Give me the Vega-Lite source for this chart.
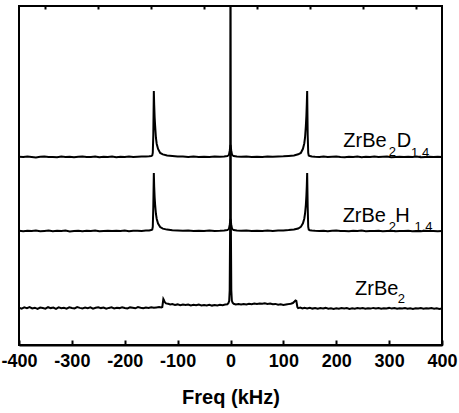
{
  "$schema": "https://vega.github.io/schema/vega-lite/v6.json",
  "autosize": {"type": "none"},
  "width": 423,
  "height": 339,
  "padding": {"left": 19, "top": 6, "right": 17, "bottom": 68},
  "background": "white",
  "config": {
    "view": {"stroke": "black", "strokeWidth": 2},
    "font": "Liberation Sans"
  },
  "datasets": {
    "spectra": [
      {"s":"D","f":-400,"v":188.3},{"s":"D","f":-392,"v":187.9},{"s":"D","f":-384,"v":188.4},{"s":"D","f":-376,"v":188.0},{"s":"D","f":-368,"v":187.6},{"s":"D","f":-360,"v":188.2},{"s":"D","f":-352,"v":188.5},{"s":"D","f":-344,"v":187.9},{"s":"D","f":-336,"v":188.1},{"s":"D","f":-328,"v":187.7},{"s":"D","f":-320,"v":188.4},{"s":"D","f":-312,"v":188.0},{"s":"D","f":-304,"v":188.3},{"s":"D","f":-296,"v":187.8},{"s":"D","f":-288,"v":188.2},{"s":"D","f":-280,"v":188.5},{"s":"D","f":-272,"v":187.9},{"s":"D","f":-264,"v":188.1},{"s":"D","f":-256,"v":188.4},{"s":"D","f":-248,"v":187.7},{"s":"D","f":-240,"v":188.2},{"s":"D","f":-232,"v":188.0},{"s":"D","f":-224,"v":188.4},{"s":"D","f":-216,"v":187.8},{"s":"D","f":-208,"v":188.3},{"s":"D","f":-200,"v":188.1},{"s":"D","f":-192,"v":188.5},{"s":"D","f":-184,"v":188.0},{"s":"D","f":-176,"v":188.3},{"s":"D","f":-168,"v":188.6},{"s":"D","f":-160,"v":188.4},{"s":"D","f":-154,"v":188.7},{"s":"D","f":-150,"v":189.0},{"s":"D","f":-148,"v":189.6},{"s":"D","f":-147,"v":192},{"s":"D","f":-146,"v":210},{"s":"D","f":-145,"v":254},{"s":"D","f":-144.3,"v":240},{"s":"D","f":-143.5,"v":228},{"s":"D","f":-142.5,"v":219},{"s":"D","f":-141,"v":207},{"s":"D","f":-139.5,"v":201},{"s":"D","f":-137,"v":196},{"s":"D","f":-133,"v":192},{"s":"D","f":-128,"v":190.6},{"s":"D","f":-120,"v":189.5},{"s":"D","f":-110,"v":189.0},{"s":"D","f":-100,"v":188.6},{"s":"D","f":-90,"v":188.4},{"s":"D","f":-80,"v":188.1},{"s":"D","f":-70,"v":188.4},{"s":"D","f":-60,"v":188.0},{"s":"D","f":-50,"v":188.3},{"s":"D","f":-40,"v":188.1},{"s":"D","f":-30,"v":188.4},{"s":"D","f":-20,"v":188.3},{"s":"D","f":-12,"v":188.6},{"s":"D","f":-6,"v":189.0},{"s":"D","f":-3,"v":190},{"s":"D","f":-1.5,"v":194},{"s":"D","f":0,"v":200},{"s":"D","f":1.5,"v":194},{"s":"D","f":3,"v":190},{"s":"D","f":6,"v":189.0},{"s":"D","f":12,"v":188.5},{"s":"D","f":20,"v":188.2},{"s":"D","f":30,"v":188.4},{"s":"D","f":40,"v":188.0},{"s":"D","f":50,"v":188.3},{"s":"D","f":60,"v":188.1},{"s":"D","f":70,"v":188.4},{"s":"D","f":80,"v":188.2},{"s":"D","f":90,"v":188.5},{"s":"D","f":100,"v":188.7},{"s":"D","f":110,"v":189.1},{"s":"D","f":120,"v":189.6},{"s":"D","f":128,"v":190.7},{"s":"D","f":133,"v":192.1},{"s":"D","f":137,"v":196.2},{"s":"D","f":139.5,"v":201.5},{"s":"D","f":141,"v":207.5},{"s":"D","f":142.5,"v":219},{"s":"D","f":143.5,"v":229},{"s":"D","f":144.3,"v":241},{"s":"D","f":145,"v":254},{"s":"D","f":146,"v":210},{"s":"D","f":147,"v":192},{"s":"D","f":148,"v":189.5},{"s":"D","f":150,"v":188.9},{"s":"D","f":154,"v":188.6},{"s":"D","f":160,"v":188.3},{"s":"D","f":168,"v":188.0},{"s":"D","f":176,"v":188.4},{"s":"D","f":184,"v":187.9},{"s":"D","f":192,"v":188.2},{"s":"D","f":200,"v":188.5},{"s":"D","f":208,"v":188.0},{"s":"D","f":216,"v":187.7},{"s":"D","f":224,"v":188.3},{"s":"D","f":232,"v":188.1},{"s":"D","f":240,"v":188.4},{"s":"D","f":248,"v":187.8},{"s":"D","f":256,"v":188.2},{"s":"D","f":264,"v":188.0},{"s":"D","f":272,"v":188.5},{"s":"D","f":280,"v":187.9},{"s":"D","f":288,"v":188.2},{"s":"D","f":296,"v":188.4},{"s":"D","f":304,"v":187.8},{"s":"D","f":312,"v":188.1},{"s":"D","f":320,"v":188.3},{"s":"D","f":328,"v":187.9},{"s":"D","f":336,"v":188.2},{"s":"D","f":344,"v":188.0},{"s":"D","f":352,"v":188.4},{"s":"D","f":360,"v":187.8},{"s":"D","f":368,"v":188.1},{"s":"D","f":376,"v":188.3},{"s":"D","f":384,"v":187.9},{"s":"D","f":392,"v":188.2},{"s":"D","f":400,"v":188.0},

      {"s":"H","f":-400,"v":114.2},{"s":"H","f":-392,"v":113.8},{"s":"H","f":-384,"v":114.3},{"s":"H","f":-376,"v":113.9},{"s":"H","f":-368,"v":114.4},{"s":"H","f":-360,"v":113.7},{"s":"H","f":-352,"v":114.1},{"s":"H","f":-344,"v":114.5},{"s":"H","f":-336,"v":113.8},{"s":"H","f":-328,"v":114.2},{"s":"H","f":-320,"v":113.9},{"s":"H","f":-312,"v":114.4},{"s":"H","f":-304,"v":113.6},{"s":"H","f":-296,"v":114.1},{"s":"H","f":-288,"v":114.3},{"s":"H","f":-280,"v":113.8},{"s":"H","f":-272,"v":114.2},{"s":"H","f":-264,"v":114.0},{"s":"H","f":-256,"v":114.4},{"s":"H","f":-248,"v":113.7},{"s":"H","f":-240,"v":114.1},{"s":"H","f":-232,"v":114.3},{"s":"H","f":-224,"v":113.9},{"s":"H","f":-216,"v":114.2},{"s":"H","f":-208,"v":114.0},{"s":"H","f":-200,"v":114.4},{"s":"H","f":-192,"v":113.8},{"s":"H","f":-184,"v":114.2},{"s":"H","f":-176,"v":114.3},{"s":"H","f":-168,"v":114.0},{"s":"H","f":-160,"v":114.4},{"s":"H","f":-154,"v":114.6},{"s":"H","f":-150,"v":114.9},{"s":"H","f":-148,"v":115.5},{"s":"H","f":-147,"v":118},{"s":"H","f":-146,"v":138},{"s":"H","f":-145,"v":172},{"s":"H","f":-144.3,"v":158},{"s":"H","f":-143.5,"v":148},{"s":"H","f":-142.5,"v":140},{"s":"H","f":-141,"v":131},{"s":"H","f":-139.5,"v":126},{"s":"H","f":-137,"v":121.5},{"s":"H","f":-133,"v":118},{"s":"H","f":-128,"v":116.4},{"s":"H","f":-120,"v":115.4},{"s":"H","f":-110,"v":114.8},{"s":"H","f":-100,"v":114.5},{"s":"H","f":-90,"v":114.2},{"s":"H","f":-80,"v":114.4},{"s":"H","f":-70,"v":113.9},{"s":"H","f":-60,"v":114.3},{"s":"H","f":-50,"v":114.0},{"s":"H","f":-40,"v":114.4},{"s":"H","f":-30,"v":114.1},{"s":"H","f":-20,"v":114.3},{"s":"H","f":-12,"v":114.6},{"s":"H","f":-6,"v":115.0},{"s":"H","f":-3,"v":116},{"s":"H","f":-1.5,"v":120},{"s":"H","f":0,"v":126},{"s":"H","f":1.5,"v":120},{"s":"H","f":3,"v":116},{"s":"H","f":6,"v":115.0},{"s":"H","f":12,"v":114.5},{"s":"H","f":20,"v":114.2},{"s":"H","f":30,"v":114.4},{"s":"H","f":40,"v":114.0},{"s":"H","f":50,"v":114.3},{"s":"H","f":60,"v":114.1},{"s":"H","f":70,"v":114.4},{"s":"H","f":80,"v":114.1},{"s":"H","f":90,"v":114.4},{"s":"H","f":100,"v":114.6},{"s":"H","f":110,"v":114.9},{"s":"H","f":120,"v":115.5},{"s":"H","f":128,"v":116.5},{"s":"H","f":133,"v":118.1},{"s":"H","f":137,"v":121.7},{"s":"H","f":139.5,"v":126.3},{"s":"H","f":141,"v":131.5},{"s":"H","f":142.5,"v":140},{"s":"H","f":143.5,"v":149},{"s":"H","f":144.3,"v":159},{"s":"H","f":145,"v":172},{"s":"H","f":146,"v":138},{"s":"H","f":147,"v":118},{"s":"H","f":148,"v":115.4},{"s":"H","f":150,"v":114.8},{"s":"H","f":154,"v":114.5},{"s":"H","f":160,"v":114.2},{"s":"H","f":168,"v":113.9},{"s":"H","f":176,"v":114.3},{"s":"H","f":184,"v":113.8},{"s":"H","f":192,"v":114.2},{"s":"H","f":200,"v":114.4},{"s":"H","f":208,"v":113.9},{"s":"H","f":216,"v":114.1},{"s":"H","f":224,"v":113.7},{"s":"H","f":232,"v":114.2},{"s":"H","f":240,"v":114.0},{"s":"H","f":248,"v":114.4},{"s":"H","f":256,"v":113.8},{"s":"H","f":264,"v":114.1},{"s":"H","f":272,"v":113.9},{"s":"H","f":280,"v":114.3},{"s":"H","f":288,"v":113.7},{"s":"H","f":296,"v":114.0},{"s":"H","f":304,"v":114.2},{"s":"H","f":312,"v":113.8},{"s":"H","f":320,"v":114.1},{"s":"H","f":328,"v":113.9},{"s":"H","f":336,"v":114.3},{"s":"H","f":344,"v":113.8},{"s":"H","f":352,"v":114.0},{"s":"H","f":360,"v":113.7},{"s":"H","f":368,"v":114.2},{"s":"H","f":376,"v":113.9},{"s":"H","f":384,"v":114.1},{"s":"H","f":392,"v":113.8},{"s":"H","f":400,"v":114.0},

      {"s":"Z","f":-400,"v":37.2},{"s":"Z","f":-395,"v":36.4},{"s":"Z","f":-390,"v":37.6},{"s":"Z","f":-385,"v":36.8},{"s":"Z","f":-380,"v":37.9},{"s":"Z","f":-375,"v":36.5},{"s":"Z","f":-370,"v":37.3},{"s":"Z","f":-365,"v":36.2},{"s":"Z","f":-360,"v":37.5},{"s":"Z","f":-355,"v":37.0},{"s":"Z","f":-350,"v":36.3},{"s":"Z","f":-345,"v":37.8},{"s":"Z","f":-340,"v":36.9},{"s":"Z","f":-335,"v":37.4},{"s":"Z","f":-330,"v":36.1},{"s":"Z","f":-325,"v":37.6},{"s":"Z","f":-320,"v":36.7},{"s":"Z","f":-315,"v":37.2},{"s":"Z","f":-310,"v":36.4},{"s":"Z","f":-305,"v":37.7},{"s":"Z","f":-300,"v":37.0},{"s":"Z","f":-295,"v":36.5},{"s":"Z","f":-290,"v":37.9},{"s":"Z","f":-285,"v":37.1},{"s":"Z","f":-280,"v":36.6},{"s":"Z","f":-275,"v":37.4},{"s":"Z","f":-270,"v":36.8},{"s":"Z","f":-265,"v":37.6},{"s":"Z","f":-260,"v":36.3},{"s":"Z","f":-255,"v":37.2},{"s":"Z","f":-250,"v":37.8},{"s":"Z","f":-245,"v":36.9},{"s":"Z","f":-240,"v":37.5},{"s":"Z","f":-235,"v":36.4},{"s":"Z","f":-230,"v":37.1},{"s":"Z","f":-225,"v":37.7},{"s":"Z","f":-220,"v":36.6},{"s":"Z","f":-215,"v":37.3},{"s":"Z","f":-210,"v":36.9},{"s":"Z","f":-205,"v":37.8},{"s":"Z","f":-200,"v":37.0},{"s":"Z","f":-195,"v":36.5},{"s":"Z","f":-190,"v":37.6},{"s":"Z","f":-185,"v":37.2},{"s":"Z","f":-180,"v":36.7},{"s":"Z","f":-175,"v":37.9},{"s":"Z","f":-170,"v":37.3},{"s":"Z","f":-165,"v":36.8},{"s":"Z","f":-160,"v":37.5},{"s":"Z","f":-155,"v":37.1},{"s":"Z","f":-150,"v":37.8},{"s":"Z","f":-145,"v":37.2},{"s":"Z","f":-140,"v":37.6},{"s":"Z","f":-135,"v":37.9},{"s":"Z","f":-131,"v":37.5},{"s":"Z","f":-129,"v":38.0},{"s":"Z","f":-128,"v":42},{"s":"Z","f":-127,"v":46},{"s":"Z","f":-126,"v":45},{"s":"Z","f":-124.5,"v":43},{"s":"Z","f":-122,"v":41.6},{"s":"Z","f":-118,"v":41.2},{"s":"Z","f":-114,"v":40.5},{"s":"Z","f":-110,"v":40.9},{"s":"Z","f":-105,"v":40.1},{"s":"Z","f":-100,"v":40.6},{"s":"Z","f":-95,"v":39.8},{"s":"Z","f":-90,"v":40.4},{"s":"Z","f":-85,"v":39.9},{"s":"Z","f":-80,"v":40.5},{"s":"Z","f":-75,"v":39.6},{"s":"Z","f":-70,"v":40.2},{"s":"Z","f":-65,"v":39.7},{"s":"Z","f":-60,"v":40.4},{"s":"Z","f":-55,"v":39.5},{"s":"Z","f":-50,"v":40.1},{"s":"Z","f":-45,"v":39.6},{"s":"Z","f":-40,"v":40.3},{"s":"Z","f":-35,"v":39.4},{"s":"Z","f":-30,"v":40.0},{"s":"Z","f":-25,"v":39.6},{"s":"Z","f":-20,"v":40.2},{"s":"Z","f":-15,"v":39.8},{"s":"Z","f":-10,"v":40.4},{"s":"Z","f":-6,"v":40.8},{"s":"Z","f":-4,"v":41.8},{"s":"Z","f":-2.5,"v":44},{"s":"Z","f":-1.5,"v":55},{"s":"Z","f":-0.7,"v":120},{"s":"Z","f":0,"v":430},{"s":"Z","f":0.7,"v":120},{"s":"Z","f":1.5,"v":55},{"s":"Z","f":2.5,"v":44.5},{"s":"Z","f":4,"v":42.2},{"s":"Z","f":6,"v":41.2},{"s":"Z","f":10,"v":40.6},{"s":"Z","f":15,"v":40.9},{"s":"Z","f":20,"v":40.4},{"s":"Z","f":25,"v":41.0},{"s":"Z","f":30,"v":40.6},{"s":"Z","f":35,"v":41.3},{"s":"Z","f":40,"v":40.8},{"s":"Z","f":45,"v":41.5},{"s":"Z","f":50,"v":41.0},{"s":"Z","f":55,"v":41.6},{"s":"Z","f":60,"v":41.2},{"s":"Z","f":65,"v":41.7},{"s":"Z","f":70,"v":41.1},{"s":"Z","f":75,"v":41.4},{"s":"Z","f":80,"v":40.7},{"s":"Z","f":85,"v":41.1},{"s":"Z","f":90,"v":40.3},{"s":"Z","f":95,"v":40.7},{"s":"Z","f":100,"v":40.1},{"s":"Z","f":105,"v":40.5},{"s":"Z","f":110,"v":40.9},{"s":"Z","f":114,"v":41.3},{"s":"Z","f":118,"v":42.0},{"s":"Z","f":121,"v":43.5},{"s":"Z","f":123,"v":44.6},{"s":"Z","f":124.5,"v":44.2},{"s":"Z","f":125.5,"v":41},{"s":"Z","f":126.5,"v":38},{"s":"Z","f":128,"v":36.8},{"s":"Z","f":132,"v":37.4},{"s":"Z","f":136,"v":36.5},{"s":"Z","f":140,"v":37.2},{"s":"Z","f":145,"v":36.6},{"s":"Z","f":150,"v":37.3},{"s":"Z","f":155,"v":36.4},{"s":"Z","f":160,"v":37.0},{"s":"Z","f":165,"v":36.2},{"s":"Z","f":170,"v":36.9},{"s":"Z","f":175,"v":36.5},{"s":"Z","f":180,"v":37.1},{"s":"Z","f":185,"v":36.3},{"s":"Z","f":190,"v":36.8},{"s":"Z","f":195,"v":36.0},{"s":"Z","f":200,"v":36.7},{"s":"Z","f":205,"v":36.2},{"s":"Z","f":210,"v":37.0},{"s":"Z","f":215,"v":36.4},{"s":"Z","f":220,"v":36.9},{"s":"Z","f":225,"v":36.1},{"s":"Z","f":230,"v":36.7},{"s":"Z","f":235,"v":36.3},{"s":"Z","f":240,"v":37.0},{"s":"Z","f":245,"v":36.5},{"s":"Z","f":250,"v":36.9},{"s":"Z","f":255,"v":36.2},{"s":"Z","f":260,"v":36.8},{"s":"Z","f":265,"v":36.4},{"s":"Z","f":270,"v":37.1},{"s":"Z","f":275,"v":36.6},{"s":"Z","f":280,"v":37.0},{"s":"Z","f":285,"v":36.3},{"s":"Z","f":290,"v":36.8},{"s":"Z","f":295,"v":36.5},{"s":"Z","f":300,"v":37.1},{"s":"Z","f":305,"v":36.4},{"s":"Z","f":310,"v":36.9},{"s":"Z","f":315,"v":36.2},{"s":"Z","f":320,"v":36.8},{"s":"Z","f":325,"v":36.5},{"s":"Z","f":330,"v":37.0},{"s":"Z","f":335,"v":36.3},{"s":"Z","f":340,"v":36.7},{"s":"Z","f":345,"v":36.1},{"s":"Z","f":350,"v":36.8},{"s":"Z","f":355,"v":36.4},{"s":"Z","f":360,"v":37.0},{"s":"Z","f":365,"v":36.2},{"s":"Z","f":370,"v":36.7},{"s":"Z","f":375,"v":36.4},{"s":"Z","f":380,"v":36.9},{"s":"Z","f":385,"v":36.3},{"s":"Z","f":390,"v":36.8},{"s":"Z","f":395,"v":36.1},{"s":"Z","f":400,"v":36.6}
    ],
    "labels": [
      {"f":213.3,"v":197.7,"t":"ZrBe","k":"main"},
      {"f":299.4,"v":188.8,"t":"2","k":"sub"},
      {"f":314.5,"v":197.7,"t":"D","k":"main"},
      {"f":341.5,"v":188.5,"t":"1.4","k":"sub"},
      {"f":212.1,"v":122.7,"t":"ZrBe","k":"main"},
      {"f":299.4,"v":114.0,"t":"2","k":"sub"},
      {"f":311.5,"v":122.7,"t":"H","k":"main"},
      {"f":348.0,"v":113.7,"t":"1.4","k":"sub"},
      {"f":235.5,"v":50.0,"t":"ZrBe","k":"main"},
      {"f":316.4,"v":42.3,"t":"2","k":"sub"}
    ]
  },
  "resolve": {"axis": {"x": "independent"}},
  "layer": [
    {
      "data": {"name": "spectra"},
      "mark": {"type": "line", "color": "black", "strokeWidth": 2, "clip": true},
      "encoding": {
        "x": {
          "field": "f",
          "type": "quantitative",
          "scale": {"domain": [-400, 400], "nice": false, "zero": false},
          "axis": {
            "title": "Freq (kHz)",
            "values": [-400,-300,-200,-100,0,100,200,300,400],
            "labelExpr": "'' + datum.value",
            "tickSize": -5,
            "tickWidth": 2,
            "tickColor": "black",
            "domainColor": "black",
            "domainWidth": 2,
            "grid": false,
            "labelFont": "Liberation Sans",
            "labelFontSize": 18,
            "labelFontWeight": "bold",
            "labelColor": "black",
            "labelPadding": 12,
            "labelFlush": false,
            "labelOverlap": false,
            "titleFont": "Liberation Sans",
            "titleFontSize": 20,
            "titleFontWeight": "bold",
            "titleColor": "black",
            "titlePadding": 17
          }
        },
        "y": {
          "field": "v",
          "type": "quantitative",
          "scale": {"domain": [0, 339], "nice": false, "zero": false},
          "axis": null
        },
        "detail": {"field": "s", "type": "nominal"},
        "order": {"field": "f", "type": "quantitative"}
      }
    },
    {
      "data": {"name": "labels"},
      "transform": [{"filter": "datum.k === 'main'"}],
      "mark": {"type": "text", "align": "left", "baseline": "alphabetic", "font": "Liberation Sans", "fontSize": 20, "color": "black"},
      "encoding": {
        "x": {"field": "f", "type": "quantitative", "axis": null},
        "y": {"field": "v", "type": "quantitative", "axis": null},
        "text": {"field": "t"}
      }
    },
    {
      "data": {"name": "labels"},
      "transform": [{"filter": "datum.k === 'sub'"}],
      "mark": {"type": "text", "align": "left", "baseline": "alphabetic", "font": "Liberation Sans", "fontSize": 13, "color": "black"},
      "encoding": {
        "x": {
          "field": "f",
          "type": "quantitative",
          "axis": {
            "values": [-350,-250,-150,-50,50,150,250,350],
            "tickSize": -3,
            "tickWidth": 2,
            "tickColor": "black",
            "domain": false,
            "labels": false,
            "grid": false,
            "title": null
          }
        },
        "y": {"field": "v", "type": "quantitative", "axis": null},
        "text": {"field": "t"}
      }
    }
  ]
}
